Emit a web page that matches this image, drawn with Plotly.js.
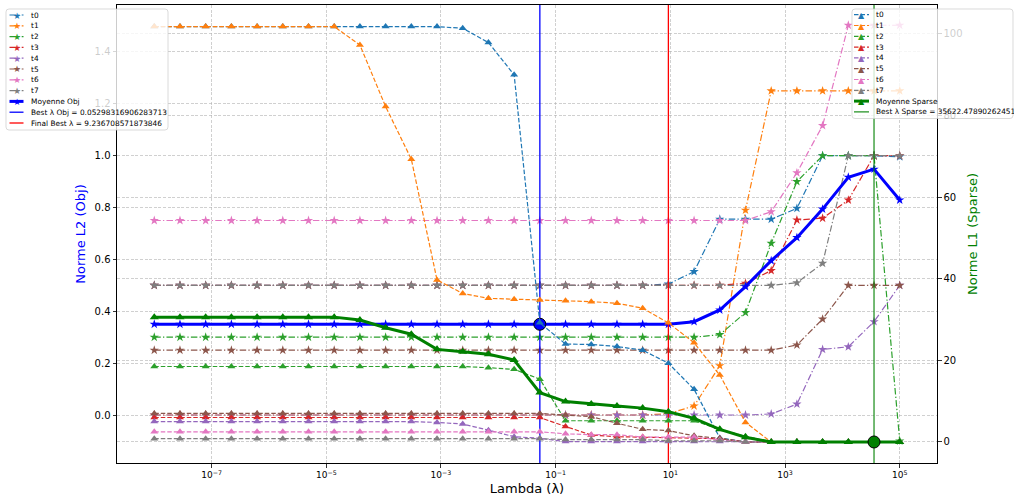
<!DOCTYPE html>
<html>
<head>
<meta charset="utf-8">
<script src="https://cdn.plot.ly/plotly-3.0.1.min.js"></script>
<style>html,body{margin:0;padding:0;background:#fff}#chart{width:1014px;height:497px}</style>
</head>
<body>
<div id="chart"></div>
<script>
// ---------------- DATA ----------------
const lambdas = [1e-8, 2.807e-8, 7.880e-8, 2.212e-7, 6.210e-7, 1.743e-6, 4.894e-6, 1.374e-5, 3.857e-5, 1.083e-4,
  3.039e-4, 8.532e-4, 2.395e-3, 6.723e-3, 1.887e-2, 5.298e-2, 0.1487, 0.4175, 1.172, 3.290,
  9.237, 25.93, 72.79, 204.3, 573.6, 1610, 4520, 12690, 35622, 100000];

const seriesNames = ['t0', 't1', 't2', 't3', 't4', 't5', 't6', 't7'];

// Norme L2 (Obj) per series
const t0Obj = [0.5,0.5,0.5,0.5,0.5,0.5,0.5,0.5,0.5,0.5, 0.5,0.5,0.5,0.5,0.5,0.5,0.5,0.5,0.5,0.5, 0.505,0.553,0.755,0.755,0.755,0.797,1.0,1.0,1.0,0.996];
const t1Obj = [0,0,0,0,0,0,0,0,0,0, 0,0,0,0,0,0,0,0,0,0, 0.005,0.035,0.19,0.79,1.25,1.25,1.25,1.25,1.25,1.25];
const t2Obj = [0.30,0.30,0.30,0.30,0.30,0.30,0.30,0.30,0.30,0.30, 0.30,0.30,0.30,0.30,0.30,0.30,0.30,0.30,0.30,0.30, 0.30,0.30,0.31,0.395,0.662,0.90,1.0,1.0,1.0,-0.10];
const t3Obj = [0.5,0.5,0.5,0.5,0.5,0.5,0.5,0.5,0.5,0.5, 0.5,0.5,0.5,0.5,0.5,0.5,0.5,0.5,0.5,0.5, 0.5,0.5,0.5,0.508,0.557,0.752,0.759,0.829,1.0,1.0];
const t4Obj = [0,0,0,0,0,0,0,0,0,0, 0,0,0,0,0,0,0,0,0,0, 0,0,0,0,0.004,0.042,0.253,0.263,0.36,0.5];
const t5Obj = [0.25,0.25,0.25,0.25,0.25,0.25,0.25,0.25,0.25,0.25, 0.25,0.25,0.25,0.25,0.25,0.25,0.25,0.25,0.25,0.25, 0.25,0.25,0.25,0.25,0.25,0.27,0.37,0.5,0.5,0.5];
const t6Obj = [0.75,0.75,0.75,0.75,0.75,0.75,0.75,0.75,0.75,0.75, 0.75,0.75,0.75,0.75,0.75,0.75,0.75,0.75,0.75,0.75, 0.75,0.75,0.75,0.75,0.784,0.934,1.116,1.503,1.503,1.503];
const t7Obj = [0.5,0.5,0.5,0.5,0.5,0.5,0.5,0.5,0.5,0.5, 0.5,0.5,0.5,0.5,0.5,0.5,0.5,0.5,0.5,0.5, 0.5,0.5,0.5,0.5,0.5,0.51,0.585,1.0,1.0,1.0];
const meanObj = [0.35,0.35,0.35,0.35,0.35,0.35,0.35,0.35,0.35,0.35, 0.35,0.35,0.35,0.35,0.35,0.35,0.35,0.35,0.35,0.35, 0.35,0.36,0.405,0.495,0.595,0.684,0.794,0.917,0.948,0.829];

// Norme L1 (Sparse) per series
const t0Sp = [101.8,101.8,101.8,101.8,101.8,101.8,101.8,101.8,101.8,101.8, 101.8,101.8,101.4,97.9,90.0,29.2,24.0,23.9,23.4,22.5, 19.3,12.9,1.0,0,0,0,0,0,0,0];
const t1Sp = [101.8,101.8,101.8,101.8,101.8,101.8,101.8,101.8,97.3,82.2, 69.3,39.7,36.4,35.2,35.0,34.8,34.6,34.4,34.0,32.8, 29.2,24.3,16.4,4.8,0,0,0,0,0,0];
const t2Sp = [18.5,18.5,18.5,18.5,18.5,18.5,18.5,18.5,18.5,18.5, 18.5,18.5,18.5,18.2,17.8,15.4,5.2,5.2,5.2,5.2, 5.2,5.2,3.1,1.4,0,0,0,0,0,0];
const t3Sp = [6.0,6.0,6.0,6.0,6.0,6.0,6.0,6.0,6.0,6.0, 6.0,6.0,6.0,6.0,6.0,6.0,3.8,1.7,1.3,1.2, 1.1,1.0,0.8,0,0,0,0,0,0,0];
const t4Sp = [5.0,5.0,5.0,5.0,5.0,5.0,5.0,5.0,5.0,5.0, 5.0,4.8,4.4,2.9,1.3,0.9,0.1,0.1,0.1,0.1, 0.1,0.1,0.1,0,0,0,0,0,0,0];
const t5Sp = [7.0,7.0,7.0,7.0,7.0,7.0,7.0,7.0,7.0,7.0, 7.0,7.0,7.0,7.0,7.0,7.0,6.6,6.2,4.6,3.1, 2.8,1.5,0.9,0,0,0,0,0,0,0];
const t6Sp = [2.5,2.5,2.5,2.5,2.5,2.5,2.5,2.5,2.5,2.5, 2.5,2.5,2.5,2.5,2.5,2.5,2.0,1.8,1.8,1.2, 1.2,1.2,0.5,0,0,0,0,0,0,0];
const t7Sp = [0.8,0.8,0.8,0.8,0.8,0.8,0.8,0.8,0.8,0.8, 0.8,0.8,0.8,0.8,0.8,0.8,0.6,0.6,0.6,0.6, 0.3,0.3,0.3,0,0,0,0,0,0,0];
const meanSp = [30.6,30.6,30.6,30.6,30.6,30.6,30.6,30.6,29.9,28.0, 26.4,22.7,22.1,21.5,20.1,12.1,9.9,9.3,8.8,8.3, 7.4,5.8,3.1,1.15,0,0,0,0,0,0];

const bestLambdaObj = 0.05298316906283713;
const finalBestLambda = 9.236708571873846;
const bestLambdaSparse = 35622.47890262451;

// tick labels
const xTickVals = [1e-7, 1e-5, 1e-3, 1e-1, 1e1, 1e3, 1e5];
const xTickText = ['10<sup>−7</sup>', '10<sup>−5</sup>', '10<sup>−3</sup>', '10<sup>−1</sup>', '10<sup>1</sup>', '10<sup>3</sup>', '10<sup>5</sup>'];
const yLeftTicks = [0, 0.2, 0.4, 0.6, 0.8, 1.0, 1.2, 1.4];
const yLeftText = ['0.0', '0.2', '0.4', '0.6', '0.8', '1.0', '1.2', '1.4'];
const yRightTicks = [0, 20, 40, 60, 80, 100];

// ---------------- STYLE ----------------
const palette = ['#1f77b4', '#ff7f0e', '#2ca02c', '#d62728', '#9467bd', '#8c564b', '#e377c2', '#7f7f7f'];
const DASH_OBJ = '6.5px,2.2px,1.3px,2.2px';
const DASH_SP = '4.5px,2px';
const FONT = 'DejaVu Sans';

const objSeries = [t0Obj, t1Obj, t2Obj, t3Obj, t4Obj, t5Obj, t6Obj, t7Obj];
const spSeries = [t0Sp, t1Sp, t2Sp, t3Sp, t4Sp, t5Sp, t6Sp, t7Sp];

function nearestIndex(v) {
  let best = 0, bd = Infinity;
  lambdas.forEach((l, i) => { const d = Math.abs(Math.log10(l) - Math.log10(v)); if (d < bd) { bd = d; best = i; } });
  return best;
}

const traces = [];
objSeries.forEach((ys, k) => traces.push({
  x: lambdas, y: ys, type: 'scatter', mode: 'lines+markers', xaxis: 'x', yaxis: 'y',
  line: { color: palette[k], width: 1.2, dash: DASH_OBJ },
  marker: { symbol: 'star', size: 7, color: palette[k] },
  name: seriesNames[k], hoverinfo: 'skip', showlegend: false
}));
traces.push({
  x: lambdas, y: meanObj, type: 'scatter', mode: 'lines+markers', xaxis: 'x', yaxis: 'y',
  line: { color: '#0000ff', width: 3 }, marker: { symbol: 'star', size: 7, color: '#0000ff' },
  name: 'Moyenne Obj', hoverinfo: 'skip', showlegend: false
});
traces.push({ x: [bestLambdaObj, bestLambdaObj], y: [-10, 10], type: 'scatter', mode: 'lines', xaxis: 'x', yaxis: 'y',
  line: { color: '#0000ff', width: 1.3 }, hoverinfo: 'skip', showlegend: false });
traces.push({ x: [finalBestLambda, finalBestLambda], y: [-10, 10], type: 'scatter', mode: 'lines', xaxis: 'x', yaxis: 'y',
  line: { color: '#ff0000', width: 1.3 }, hoverinfo: 'skip', showlegend: false });
const iObj = nearestIndex(bestLambdaObj);
traces.push({ x: [bestLambdaObj], y: [meanObj[iObj]], type: 'scatter', mode: 'markers', xaxis: 'x', yaxis: 'y',
  marker: { symbol: 'circle', size: 12, color: '#0000ff', line: { color: '#000', width: 1 } }, hoverinfo: 'skip', showlegend: false });

spSeries.forEach((ys, k) => traces.push({
  x: lambdas, y: ys, type: 'scatter', mode: 'lines+markers', xaxis: 'x', yaxis: 'y2',
  line: { color: palette[k], width: 1.2, dash: DASH_SP },
  marker: { symbol: 'triangle-up', size: 7, color: palette[k] },
  name: seriesNames[k], hoverinfo: 'skip', showlegend: false
}));
traces.push({
  x: lambdas, y: meanSp, type: 'scatter', mode: 'lines+markers', xaxis: 'x', yaxis: 'y2',
  line: { color: '#008000', width: 3 }, marker: { symbol: 'triangle-up', size: 8, color: '#008000' },
  name: 'Moyenne Sparse', hoverinfo: 'skip', showlegend: false
});
traces.push({ x: [bestLambdaSparse, bestLambdaSparse], y: [-1000, 1000], type: 'scatter', mode: 'lines', xaxis: 'x', yaxis: 'y2',
  line: { color: '#008000', width: 1.1 }, hoverinfo: 'skip', showlegend: false });
const iSp = nearestIndex(bestLambdaSparse);
traces.push({ x: [bestLambdaSparse], y: [meanSp[iSp]], type: 'scatter', mode: 'markers', xaxis: 'x', yaxis: 'y2',
  marker: { symbol: 'circle', size: 12, color: '#008000', line: { color: '#000', width: 1 } }, hoverinfo: 'skip', showlegend: false });

// ---------------- LAYOUT ----------------
const W = 1014, H = 497;
const PL = 117, PR = 937, PT = 5, PB = 463;
const px2x = p => (p - PL) / (PR - PL);
const py2y = p => (PB - p) / (PB - PT);

const shapes = [];
const annotations = [];

function roundRectPath(x0, y0, x1, y1, r) {
  const P = (x, y) => px2x(x).toFixed(5) + ',' + py2y(y).toFixed(5);
  return 'M' + P(x0 + r, y0) + ' L' + P(x1 - r, y0) + ' Q' + P(x1, y0) + ' ' + P(x1, y0 + r) +
    ' L' + P(x1, y1 - r) + ' Q' + P(x1, y1) + ' ' + P(x1 - r, y1) +
    ' L' + P(x0 + r, y1) + ' Q' + P(x0, y1) + ' ' + P(x0, y1 - r) +
    ' L' + P(x0, y0 + r) + ' Q' + P(x0, y0) + ' ' + P(x0 + r, y0) + ' Z';
}

function buildLegend(box, entries) {
  shapes.push({ type: 'path', xref: 'paper', yref: 'paper', layer: 'above',
    path: roundRectPath(box.x0, box.y0, box.x1, box.y1, 3),
    fillcolor: 'rgba(255,255,255,0.8)', line: { color: 'rgba(204,204,204,0.9)', width: 0.8 } });
  entries.forEach((e, k) => {
    const yc = box.row0 + k * box.rowH;
    shapes.push({ type: 'line', xref: 'paper', yref: 'paper', layer: 'above',
      x0: px2x(box.lx0), x1: px2x(box.lx1), y0: py2y(yc), y1: py2y(yc),
      line: { color: e.color, width: e.width, dash: e.dash || 'solid' } });
    if (e.glyph) {
      annotations.push({ xref: 'paper', yref: 'paper', x: px2x((box.lx0 + box.lx1) / 2), y: py2y(yc + 0.5),
        text: e.glyph, showarrow: false, xanchor: 'center', yanchor: 'middle', borderpad: 0,
        font: { family: FONT, size: e.gsize, color: e.color } });
    }
    annotations.push({ xref: 'paper', yref: 'paper', x: px2x(box.tx), y: py2y(yc), text: e.label,
      showarrow: false, xanchor: 'left', yanchor: 'middle', borderpad: 0,
      font: { family: FONT, size: 7.4, color: '#000' } });
  });
}

const leftEntries = seriesNames.map((n, k) => ({ label: n, color: palette[k], width: 1.2, dash: DASH_OBJ, glyph: '★', gsize: 9 }));
leftEntries.push({ label: 'Moyenne Obj', color: '#0000ff', width: 3, glyph: '★', gsize: 9 });
leftEntries.push({ label: 'Best λ Obj = ' + String(bestLambdaObj), color: '#0000ff', width: 1.3 });
leftEntries.push({ label: 'Final Best λ = ' + String(finalBestLambda), color: '#ff0000', width: 1.3 });

const rightEntries = seriesNames.map((n, k) => ({ label: n, color: palette[k], width: 1.2, dash: DASH_SP, glyph: '▲', gsize: 8 }));
rightEntries.push({ label: 'Moyenne Sparse', color: '#008000', width: 3, glyph: '▲', gsize: 8 });
rightEntries.push({ label: 'Best λ Sparse = ' + String(bestLambdaSparse), color: '#008000', width: 1.1 });

buildLegend({ x0: 6, x1: 168, y0: 9, y1: 130, row0: 15, rowH: 10.8, lx0: 9.5, lx1: 23.5, tx: 30 }, leftEntries);
buildLegend({ x0: 852, x1: 1013, y0: 9, y1: 118.5, row0: 14.7, rowH: 10.8, lx0: 854, lx1: 869, tx: 875 }, rightEntries);

const gridStyle = { showgrid: true, gridcolor: 'rgba(176,176,176,0.75)', gridwidth: 0.8, griddash: '3px,1.6px' };
const axisCommon = { showline: true, linecolor: '#000', linewidth: 1, ticks: 'outside', ticklen: 3.5, tickwidth: 0.8, tickcolor: '#000', zeroline: false };

const layout = {
  width: W, height: H,
  margin: { l: PL, r: W - PR, t: PT, b: H - PB, pad: 0 },
  paper_bgcolor: '#ffffff', plot_bgcolor: '#ffffff',
  font: { family: FONT, size: 10, color: '#000' },
  showlegend: false,
  xaxis: Object.assign({}, axisCommon, gridStyle, {
    type: 'log', range: [-8.65, 5.65], tickmode: 'array', tickvals: xTickVals, ticktext: xTickText,
    mirror: true, tickfont: { family: FONT, size: 9, color: '#000' },
    title: { text: 'Lambda (λ)', font: { family: FONT, size: 13, color: '#000' }, standoff: 4 }
  }),
  yaxis: Object.assign({}, axisCommon, gridStyle, {
    range: [-0.185, 1.581], tickmode: 'array', tickvals: yLeftTicks, ticktext: yLeftText,
    mirror: true, tickfont: { family: FONT, size: 10, color: '#000' },
    title: { text: 'Norme L2 (Obj)', font: { family: FONT, size: 13, color: '#0000ff' }, standoff: 6 }
  }),
  yaxis2: Object.assign({}, axisCommon, gridStyle, {
    overlaying: 'y', side: 'right', anchor: 'x',
    range: [-5.15, 107.1], tickmode: 'array', tickvals: yRightTicks,
    tickfont: { family: FONT, size: 10, color: '#000' },
    title: { text: 'Norme L1 (Sparse)', font: { family: FONT, size: 13, color: '#008000' }, standoff: 6 }
  }),
  shapes: shapes,
  annotations: annotations
};

Plotly.newPlot('chart', traces, layout, { displayModeBar: false, staticPlot: true });
</script>
</body>
</html>
